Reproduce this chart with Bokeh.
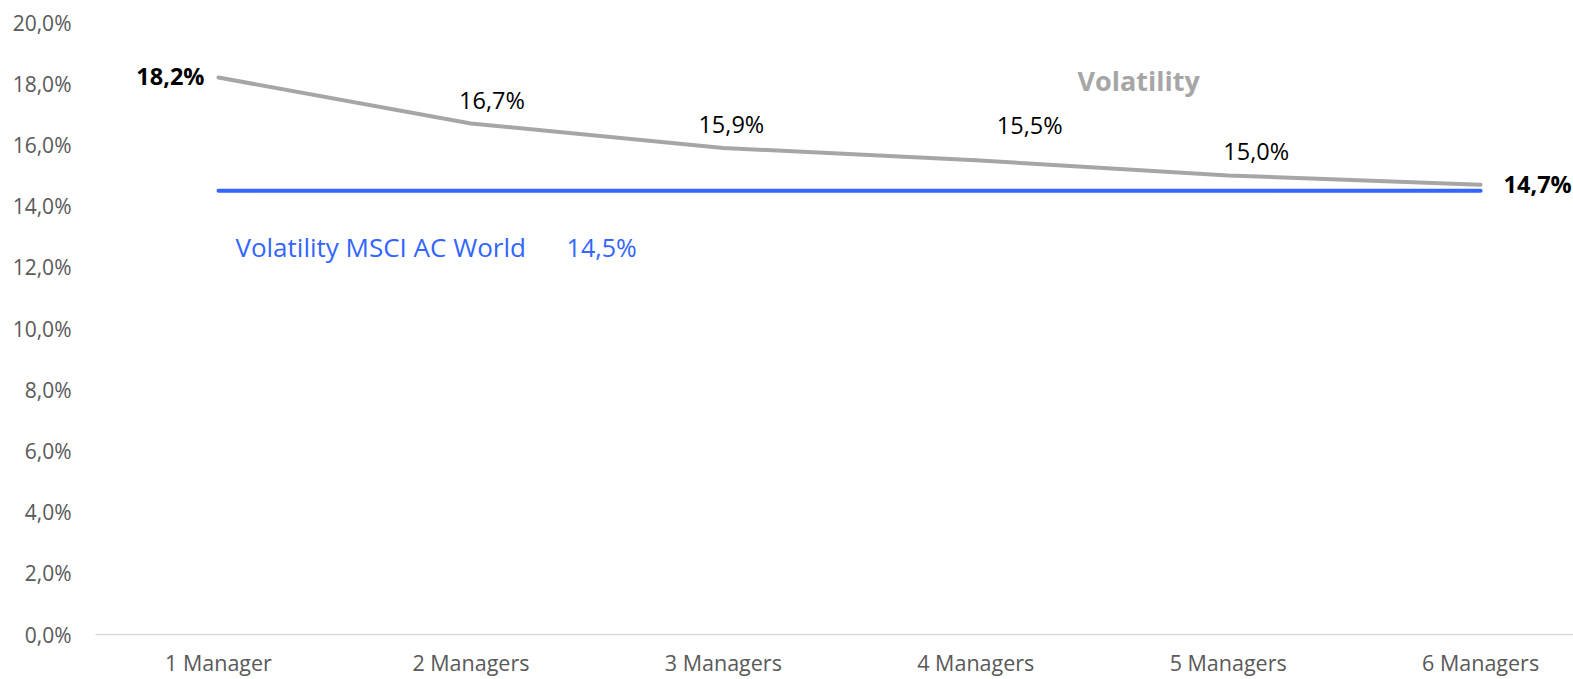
from bokeh.plotting import figure
from bokeh.models import FixedTicker, Label
from bokeh.embed import file_html
from bokeh.resources import INLINE

categories = ["1 Manager", "2 Managers", "3 Managers", "4 Managers", "5 Managers", "6 Managers"]
volatility = [18.2, 16.7, 15.9, 15.5, 15.0, 14.7]
msci_world = 14.5
y_ticks = [0, 2, 4, 6, 8, 10, 12, 14, 16, 18, 20]

FONT = "Open Sans"
GRAY = "#A6A6A6"
BLUE = "#3366FF"
TICK_COLOR = "#595959"

xs = list(range(len(categories)))

p = figure(width=1573, height=679, output_backend="svg", toolbar_location=None,
           x_range=(-0.4873, 5.368), y_range=(0, 20),
           min_border_left=95, min_border_right=0, min_border_top=22, min_border_bottom=43)
p.outline_line_color = None
p.xgrid.grid_line_color = None
p.ygrid.grid_line_color = None
p.background_fill_color = "white"

# axes
p.xaxis.ticker = FixedTicker(ticks=xs)
p.xaxis.major_label_overrides = {i: c for i, c in zip(xs, categories)}
p.xaxis.axis_line_color = "#D9D9D9"
p.xaxis.axis_line_width = 1.5
p.xaxis.major_tick_line_color = None
p.xaxis.minor_tick_line_color = None
p.xaxis.major_tick_out = 0
p.xaxis.major_label_standoff = 13
p.xaxis.major_label_text_font = FONT
p.xaxis.major_label_text_font_size = "21.5px"
p.xaxis.major_label_text_color = TICK_COLOR

p.yaxis.ticker = FixedTicker(ticks=y_ticks)
p.yaxis.major_label_overrides = {t: f"{t:.1f}".replace(".", ",") + "%" for t in y_ticks}
p.yaxis.axis_line_color = None
p.yaxis.major_tick_line_color = None
p.yaxis.minor_tick_line_color = None
p.yaxis.major_tick_out = 0
p.yaxis.major_label_standoff = 24
p.yaxis.major_label_text_font = FONT
p.yaxis.major_label_text_font_size = "21px"
p.yaxis.major_label_text_color = TICK_COLOR

# lines
p.line([xs[0], xs[-1]], [msci_world, msci_world], line_color=BLUE, line_width=4, line_cap="round")
p.line(xs, volatility, line_color=GRAY, line_width=4, line_join="round", line_cap="round")

# data labels
offsets = [(-14, -2, "right", "bold"), (21, -23, "center", "normal"), (8, -24, "center", "normal"),
           (54, -35, "center", "normal"), (28, -25, "center", "normal"), (23, -1, "left", "bold")]
for x, v, (dx, dy, align, weight) in zip(xs, volatility, offsets):
    p.add_layout(Label(x=x, y=v, x_offset=dx, y_offset=-dy, text=f"{v:.1f}".replace(".", ",") + "%",
                       text_font=FONT, text_font_size="23.5px", text_color="black",
                       text_font_style=weight, text_align=align, text_baseline="middle"))

# series labels
p.add_layout(Label(x=3.645, y=18.1, text="Volatility", text_font=FONT, text_font_size="27px",
                   text_font_style="bold", text_color=GRAY, text_align="center", text_baseline="middle"))
p.add_layout(Label(x=0.067, y=12.67, text="Volatility MSCI AC World", text_font=FONT,
                   text_font_size="26px", text_color=BLUE, text_align="left", text_baseline="middle"))
p.add_layout(Label(x=1.379, y=12.67, text=f"{msci_world:.1f}".replace(".", ",") + "%", text_font=FONT,
                   text_font_size="25px", text_color=BLUE, text_align="left", text_baseline="middle"))

open("out.html", "w").write(file_html(p, INLINE))
